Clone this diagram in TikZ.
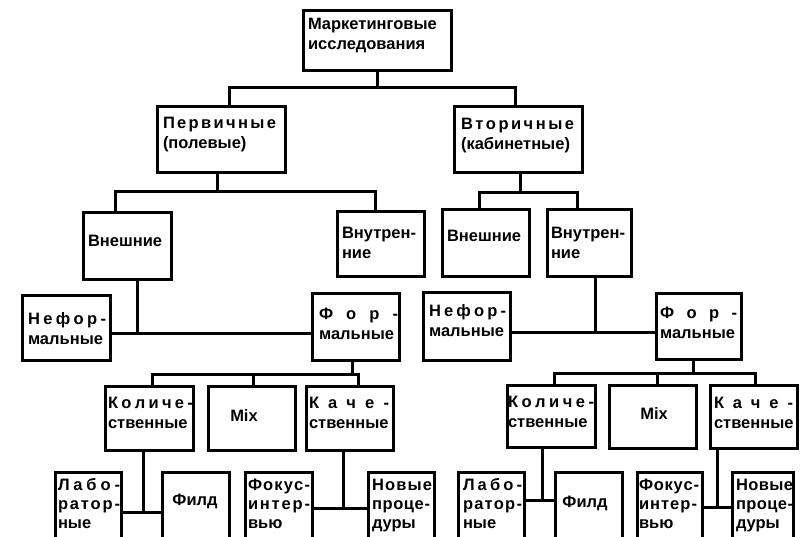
\documentclass[tikz,border=0pt]{standalone}
\usepackage{fontspec}
\setmainfont{Liberation Sans}
\newcommand\jl[2]{\hbox to #1pt{#2}}
\begin{document}
\begin{tikzpicture}[x=1pt,y=-1pt,
  box/.style={draw, line width=3pt, anchor=north west, inner sep=0pt, outer sep=0pt},
  txt/.style={anchor=base west, inner sep=0pt, outer sep=0pt, font=\fontsize{16.5}{20}\selectfont\bfseries},
  txtb/.style={txt, font=\fontsize{16.5}{19}\selectfont\bfseries},
  ctxt/.style={txt, anchor=base},
  conn/.style={line width=3pt, line join=miter}]
\useasboundingbox (0,0) rectangle (802,537);
\clip (0,0) rectangle (802,537);
% ---------- boxes ----------
\node[box, minimum width=148pt, minimum height=60pt] (top) at (303,11) {};
\node[box, minimum width=128pt, minimum height=66pt] (prim) at (157,107) {};
\node[box, minimum width=128pt, minimum height=66pt] (sec) at (454,107) {};
\node[box, minimum width=88pt, minimum height=66pt] (extL) at (83,213) {};
\node[box, minimum width=87pt, minimum height=64pt] (intL) at (337,212) {};
\node[box, minimum width=87pt, minimum height=66pt] (extR) at (442,210) {};
\node[box, minimum width=84pt, minimum height=66pt] (intR) at (547,210) {};
\node[box, minimum width=88pt, minimum height=65pt] (infL) at (22,295) {};
\node[box, minimum width=87pt, minimum height=67pt] (forL) at (312,293) {};
\node[box, minimum width=87pt, minimum height=68pt] (infR) at (423,292) {};
\node[box, minimum width=85pt, minimum height=66pt] (forR) at (656,293) {};
\node[box, minimum width=88pt, minimum height=64pt] (quanL) at (105,386) {};
\node[box, minimum width=87pt, minimum height=64pt] (mixL) at (208,386) {};
\node[box, minimum width=87pt, minimum height=64pt] (qualL) at (306,386) {};
\node[box, minimum width=66pt, minimum height=90pt] (labL) at (55,472) {};
\node[box, minimum width=67pt, minimum height=90pt] (fieldL) at (162,472) {};
\node[box, minimum width=67pt, minimum height=90pt] (focL) at (245,472) {};
\node[box, minimum width=66pt, minimum height=90pt] (newL) at (368,472) {};
\node[box, minimum width=88pt, minimum height=62pt] (quanR) at (507,385) {};
\node[box, minimum width=87pt, minimum height=63pt] (mixR) at (609,385) {};
\node[box, minimum width=87pt, minimum height=63pt] (qualR) at (710,385) {};
\node[box, minimum width=66pt, minimum height=90pt] (labR) at (458,472) {};
\node[box, minimum width=67pt, minimum height=90pt] (fieldR) at (555,472) {};
\node[box, minimum width=65pt, minimum height=90pt] (focR) at (637,472) {};
\node[box, minimum width=61pt, minimum height=90pt] (newR) at (732,472) {};
% ---------- texts ----------
\node[txt] (t-top) at (308,30) {\vtop{\hbox{Маркетинговые}\hbox{исследования}}};
\node[txt] (t-prim) at (163,129) {\vtop{\jl{113}{П\hfil е\hfil р\hfil в\hfil и\hfil ч\hfil н\hfil ы\hfil е}\hbox{(полевые)}}};
\node[txt] (t-sec) at (461,130) {\vtop{\jl{113}{В\hfil т\hfil о\hfil р\hfil и\hfil ч\hfil н\hfil ы\hfil е}\hbox{(кабинетные)}}};
\node[txt] (t-extL) at (88,246) {Внешние};
\node[txt] (t-intL) at (342,238) {\vtop{\hbox{Внутрен-}\hbox{ние}}};
\node[txt] (t-extR) at (447,241) {Внешние};
\node[txt] (t-intR) at (551,238) {\vtop{\hbox{Внутрен-}\hbox{ние}}};
\node[txt] (t-infL) at (28,324) {\vtop{\jl{78}{Н\hfil е\hfil ф\hfil о\hfil р\hfil -}\hbox{мальные}}};
\node[txt] (t-forL) at (319,319) {\vtop{\jl{79}{Ф\hfil о\hfil р\hfil -}\hbox{мальные}}};
\node[txt] (t-infR) at (429,316) {\vtop{\jl{77}{Н\hfil е\hfil ф\hfil о\hfil р\hfil -}\hbox{мальные}}};
\node[txt] (t-forR) at (660,318) {\vtop{\jl{77}{Ф\hfil о\hfil р\hfil -}\hbox{мальные}}};
\node[txt] (t-quanL) at (108,408) {\vtop{\jl{85}{К\hfil о\hfil л\hfil и\hfil ч\hfil е\hfil -}\hbox{ственные}}};
\node[ctxt] (t-mixL) at (244,421) {Mix};
\node[txt] (t-qualL) at (309,408) {\vtop{\jl{80}{К\hfil а\hfil ч\hfil е\hfil -}\hbox{ственные}}};
\node[txtb] (t-labL) at (58,490) {\vtop{\jl{62}{Л\hfil а\hfil б\hfil о\hfil -}\jl{62}{р\hfil а\hfil т\hfil о\hfil р\hfil -}\hbox{ные}}};
\node[ctxt] (t-fieldL) at (195,505) {Филд};
\node[txtb] (t-focL) at (248,490) {\vtop{\jl{62}{Ф\hfil о\hfil к\hfil у\hfil с\hfil -}\jl{62}{и\hfil н\hfil т\hfil е\hfil р\hfil -}\hbox{вью}}};
\node[txtb] (t-newL) at (372,490) {\vtop{\jl{60}{Н\hfil о\hfil в\hfil ы\hfil е}\jl{58}{п\hfil р\hfil о\hfil ц\hfil е\hfil -}\hbox{дуры}}};
\node[txt] (t-quanR) at (508,407) {\vtop{\jl{86}{К\hfil о\hfil л\hfil и\hfil ч\hfil е\hfil -}\hbox{ственные}}};
\node[ctxt] (t-mixR) at (654,419) {Mix};
\node[txt] (t-qualR) at (714,408) {\vtop{\jl{79}{К\hfil а\hfil ч\hfil е\hfil -}\hbox{ственные}}};
\node[txtb] (t-labR) at (463,490) {\vtop{\jl{59}{Л\hfil а\hfil б\hfil о\hfil -}\jl{59}{р\hfil а\hfil т\hfil о\hfil р\hfil -}\hbox{ные}}};
\node[ctxt] (t-fieldR) at (585,507) {Филд};
\node[txtb] (t-focR) at (639,490) {\vtop{\jl{60}{Ф\hfil о\hfil к\hfil у\hfil с\hfil -}\jl{58}{и\hfil н\hfil т\hfil е\hfil р\hfil -}\hbox{вью}}};
\node[txtb] (t-newR) at (736,490) {\vtop{\jl{57}{Н\hfil о\hfil в\hfil ы\hfil е}\jl{57}{п\hfil р\hfil о\hfil ц\hfil е\hfil -}\hbox{дуры}}};
% ---------- connectors ----------
\draw[conn] (top.south) -- ++(0,17) coordinate (j1);
\draw[conn] ([xshift=8pt]prim.north) |- (j1) -| ([xshift=-3pt]sec.north);
\draw[conn] ([xshift=-4pt]prim.south) -- ++(0,19) coordinate (j2);
\draw[conn] ([xshift=-12pt]extL.north) |- (j2) -| ([xshift=-5.5pt]intL.north);
\draw[conn] ([xshift=2pt]sec.south) -- ++(0,20) coordinate (j3);
\draw[conn] ([xshift=-6.5pt]extR.north) |- (j3) -| ([xshift=-12pt]intR.north);
\draw[conn] ([xshift=10pt]extL.south) -- ++(0,54) coordinate (j4);
\draw[conn] (j4 -| infL.east) -- (j4 -| forL.west);
\draw[conn] ([xshift=6pt]intR.south) -- ++(0,56) coordinate (j5);
\draw[conn] (j5 -| infR.east) -- (j5 -| forR.west);
\draw[conn] ([xshift=-3.5pt]forL.south) -- ++(0,14) coordinate (j6);
\draw[conn] ([xshift=3pt]quanL.north) |- (j6) -| ([xshift=8.5pt]qualL.north);
\draw[conn] ([xshift=1.5pt]mixL.north) -- ([xshift=1.5pt]mixL.north |- j6);
\draw[conn] ([xshift=-5.5pt]forR.south) -- ++(0,14) coordinate (j7);
\draw[conn] ([xshift=3pt]quanR.north) |- (j7) -| ([xshift=1.5pt]qualR.north);
\draw[conn] ([xshift=4.5pt]mixR.north) -- ([xshift=4.5pt]mixR.north |- j7);
\draw[conn] ([xshift=-6pt]quanL.south) -- ++(0,62) coordinate (j8);
\draw[conn] (j8 -| labL.east) -- (j8 -| fieldL.west);
\draw[conn] ([xshift=-6.5pt]qualL.south) -- ++(0,58) coordinate (j9);
\draw[conn] (j9 -| focL.east) -- (j9 -| newL.west);
\draw[conn] ([xshift=-9pt]quanR.south) -- ++(0,53) coordinate (j10);
\draw[conn] (j10 -| labR.east) -- (j10 -| fieldR.west);
\draw[conn] ([xshift=-36.5pt]qualR.south) -- ++(0,59) coordinate (j11);
\draw[conn] (j11 -| focR.east) -- (j11 -| newR.west);
\end{tikzpicture}
\end{document}
